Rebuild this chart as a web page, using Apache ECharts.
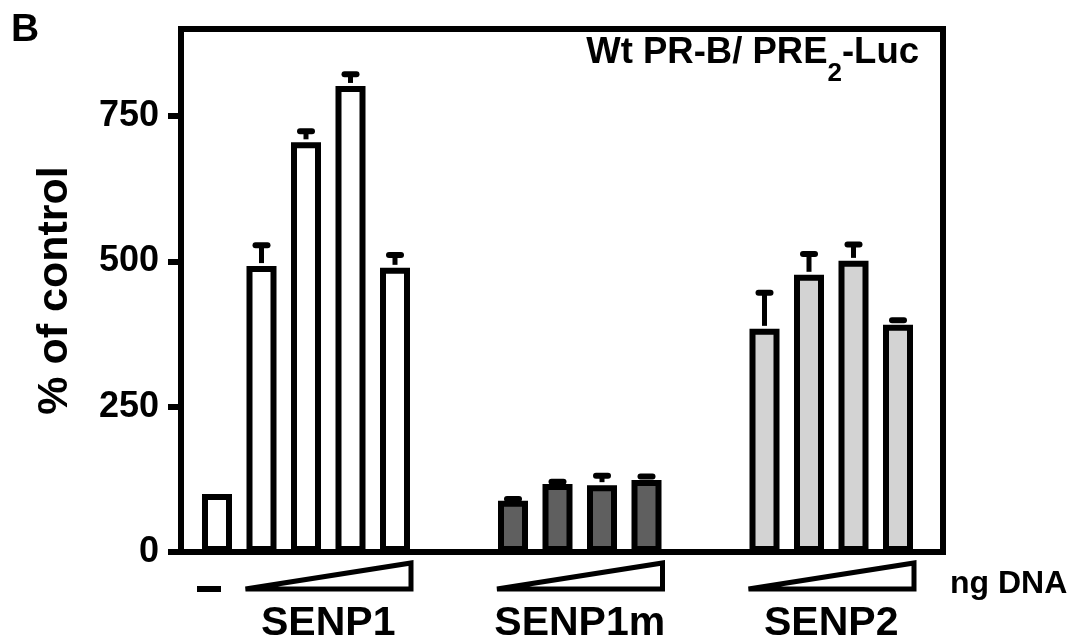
<!DOCTYPE html>
<html>
<head>
<meta charset="utf-8">
<script src="https://cdn.jsdelivr.net/npm/echarts@6/dist/echarts.min.js"></script>
<style>html,body{margin:0;padding:0;background:#fff}#c{width:1078px;height:640px}</style>
</head>
<body>
<div id="c"></div>
<script>
// ---- data ----
const groupNames = ['SENP1', 'SENP1m', 'SENP2'];
const doseLabels = ['control', 'dose 1', 'dose 2', 'dose 3', 'dose 4'];
const senp1Values = [100, 492, 705, 802, 489];
const senp1Errors = [0, 36, 19, 20, 22];
const senp1mValues = [0, 88, 117, 115, 124];
const senp1mErrors = [0, 3, 4, 16, 6];
const senp2Values = [0, 384, 477, 501, 391];
const senp2Errors = [0, 62, 36, 28, 8];
const yTicks = [0, 250, 500, 750];
const yMax = 900;
const titleText = 'Wt PR-B/ PRE';
const titleSub = '2';
const titleTail = '-Luc';
const yName = '% of control';
const xNote = 'ng DNA';
const panelLetter = 'B';

// ---- layout / style ----
const FONT = '"Liberation Sans", Arial, Helvetica, sans-serif';
const fills = ['#ffffff', '#5f5f5f', '#d3d3d3'];
const groupValues = [senp1Values, senp1mValues, senp2Values];
const groupErrors = [senp1Errors, senp1mErrors, senp2Errors];
const frame = {left: 181, top: 29, width: 762, height: 523};
const band = 44.5;
const groupStart = 194.75, groupStep = 251.5;

const grids = [Object.assign({show: true, borderWidth: 6, borderColor: '#000', backgroundColor: 'transparent'}, frame)];
const xAxes = [{gridIndex: 0, type: 'value', min: 0, max: 1, show: false}];
const yAxes = [{
  gridIndex: 0, type: 'value', min: 0, max: yMax,
  axisLine: {show: true, lineStyle: {color: '#000', width: 6}},
  axisTick: {show: true, length: 13, customValues: yTicks, lineStyle: {color: '#000', width: 6}},
  axisLabel: {customValues: yTicks, fontSize: 36, fontWeight: 'bold', color: '#000', margin: 22, fontFamily: FONT},
  splitLine: {show: false},
  name: yName, nameLocation: 'middle', nameRotate: 90, nameGap: 104,
  nameTextStyle: {fontSize: 43, fontWeight: 'bold', color: '#000', fontFamily: FONT}
}];
const series = [];
groupNames.forEach((g, k) => {
  grids.push({left: groupStart + k * groupStep, top: frame.top, width: band * 5, height: frame.height});
  xAxes.push({gridIndex: k + 1, type: 'category', data: doseLabels, show: false});
  yAxes.push({gridIndex: k + 1, type: 'value', min: 0, max: yMax, show: false});
  series.push({
    type: 'bar', name: g, xAxisIndex: k + 1, yAxisIndex: k + 1,
    data: groupValues[k], barWidth: 30, silent: true, z: 2,
    itemStyle: {color: fills[k], borderColor: '#000', borderWidth: 6}
  });
  series.push({
    type: 'custom', xAxisIndex: k + 1, yAxisIndex: k + 1, z: 3, silent: true,
    data: groupValues[k].map((v, i) => [i, v, groupErrors[k][i]]),
    renderItem: function (params, api) {
      const err = api.value(2);
      if (!err) return null;
      const i = api.value(0), v = api.value(1);
      const b = api.coord([i, v]);
      const t = api.coord([i, v + err]);
      return {type: 'group', children: [
        {type: 'line', shape: {x1: b[0], y1: b[1] - 3, x2: b[0], y2: t[1]}, style: {stroke: '#000', lineWidth: 5}},
        {type: 'line', shape: {x1: b[0] - 6, y1: t[1], x2: b[0] + 6, y2: t[1]}, style: {stroke: '#000', lineWidth: 6, lineCap: 'round'}}
      ]};
    }
  });
});

const chart = echarts.init(document.getElementById('c'), null, {renderer: 'canvas'});
chart.setOption({
  animation: false,
  backgroundColor: '#fff',
  grid: grids, xAxis: xAxes, yAxis: yAxes, series: series
});

// annotations: dose triangles, labels
const gfx = [];
const txt = (text, x, y, size, align, va) => ({
  type: 'text', silent: true, z: 10,
  style: {text: text, x: x, y: y, fontSize: size, fontWeight: 'bold', fontFamily: FONT, fill: '#000', align: align, verticalAlign: va}
});
const triY = 589, triTop = 563;
groupNames.forEach((g, k) => {
  const c0 = chart.convertToPixel({xAxisIndex: k + 1}, 0);
  const c1 = chart.convertToPixel({xAxisIndex: k + 1}, 1);
  const c4 = chart.convertToPixel({xAxisIndex: k + 1}, 4);
  const xl = c1 - 16, xr = c4 + 16;
  gfx.push({type: 'polygon', silent: true, z: 10,
    shape: {points: [[xl, triY], [xr, triY], [xr, triTop]]},
    style: {fill: '#fff', stroke: '#000', lineWidth: 5, lineJoin: 'miter'}});
  if (k === 0) {
    gfx.push({type: 'line', silent: true, z: 10,
      shape: {x1: c0 - 20, y1: triY, x2: c0 + 4, y2: triY},
      style: {stroke: '#000', lineWidth: 6}});
  }
  gfx.push(txt(g, (c1 + c4) / 2, 624, 41, 'center', 'middle'));
});
gfx.push(txt(xNote, 950, 584, 32, 'left', 'middle'));
gfx.push(txt(panelLetter, 11, 30, 39, 'left', 'middle'));
gfx.push({type: 'text', silent: true, z: 10,
  style: {
    text: '{a|' + titleText + '}{s|' + titleSub + '}{a|' + titleTail + '}',
    x: 919, y: 34, align: 'right', verticalAlign: 'top',
    rich: {
      a: {fontSize: 36.5, fontWeight: 'bold', fontFamily: FONT, fill: '#000', color: '#000', lineHeight: 40, verticalAlign: 'top'},
      s: {fontSize: 26, fontWeight: 'bold', fontFamily: FONT, fill: '#000', color: '#000', lineHeight: 26, verticalAlign: 'top', padding: [27, 0, 0, 0]}
    }
  }});
chart.setOption({graphic: gfx});
</script>
</body>
</html>
